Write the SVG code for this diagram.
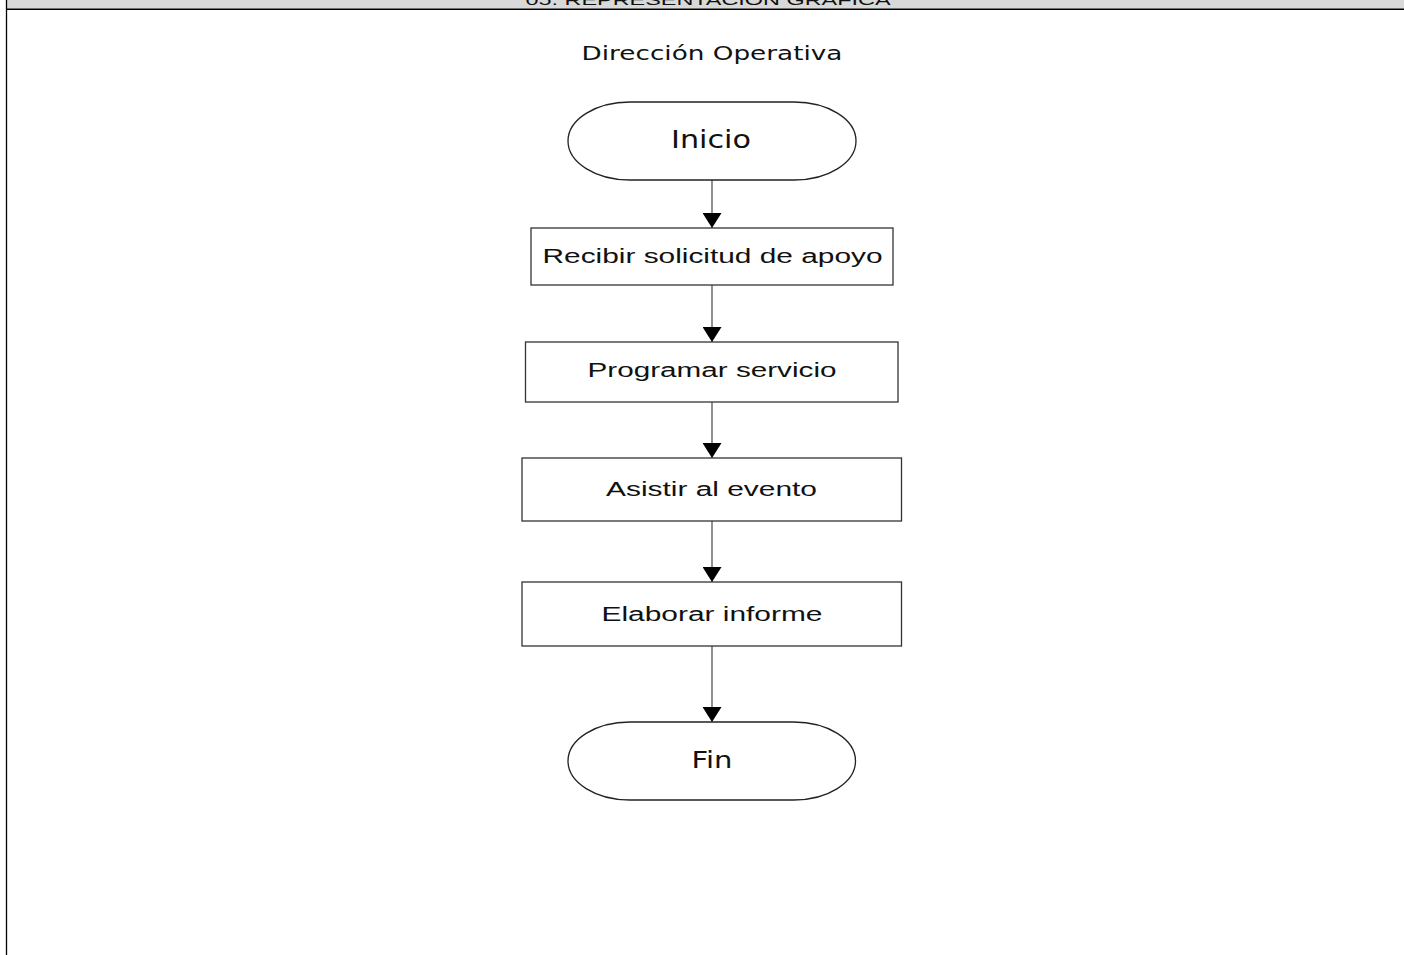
<svg xmlns="http://www.w3.org/2000/svg" width="1404" height="955" viewBox="0 0 1404 955">
<style>
.box{fill:#fff;stroke:#333;stroke-width:1.3}
.term{fill:#fff;stroke:#222;stroke-width:1.3}
.lbl{font-family:"Liberation Sans",Arial,sans-serif;font-size:19.5px;fill:#111;text-anchor:middle}
.tl{font-family:"DejaVu Sans","Verdana",sans-serif;fill:#111;text-anchor:middle}
.conn{stroke:#555;stroke-width:1.3;fill:none}
</style>
<defs>
<marker id="ah" viewBox="0 0 15 19" refX="15" refY="9.5" markerWidth="15" markerHeight="19" markerUnits="userSpaceOnUse" orient="auto">
<path d="M0,0 L15,9.5 L0,19 Z" fill="#000"/>
</marker>
</defs>
<rect width="1404" height="955" fill="#fff"/>
<g id="header">
<rect x="7" y="0" width="1397" height="8.7" fill="#d9d9d9"/>
<text x="708" y="5" font-family="'Liberation Sans',Arial,sans-serif" font-size="15.5" fill="#111" text-anchor="middle" textLength="365" lengthAdjust="spacingAndGlyphs">05. REPRESENTACIÓN GRÁFICA</text>
<line x1="6" y1="9.3" x2="1404" y2="9.3" stroke="#000" stroke-width="1.4"/>
<line x1="6.5" y1="0" x2="6.5" y2="955" stroke="#000" stroke-width="1.3"/>
</g>
<g id="title">
<text class="tl" x="712" y="60" font-size="19.5" textLength="261" lengthAdjust="spacingAndGlyphs">Dirección Operativa</text>
</g>
<g id="connectors">
<line class="conn" x1="712" y1="180" x2="712" y2="228" marker-end="url(#ah)"/>
<line class="conn" x1="712" y1="285" x2="712" y2="342" marker-end="url(#ah)"/>
<line class="conn" x1="712" y1="402" x2="712" y2="458" marker-end="url(#ah)"/>
<line class="conn" x1="712" y1="521" x2="712" y2="582" marker-end="url(#ah)"/>
<line class="conn" x1="712" y1="646" x2="712" y2="722" marker-end="url(#ah)"/>
</g>
<g id="inicio">
<rect class="term" x="568" y="102" width="288" height="78" rx="62" ry="39"/>
<text class="tl" x="711" y="148" font-size="24" textLength="80" lengthAdjust="spacingAndGlyphs">Inicio</text>
</g>
<g id="recibir">
<rect class="box" x="531" y="228" width="362" height="57"/>
<text class="lbl" x="712.5" y="263" textLength="340" lengthAdjust="spacingAndGlyphs">Recibir solicitud de apoyo</text>
</g>
<g id="programar">
<rect class="box" x="525.5" y="342" width="372.5" height="60"/>
<text class="lbl" x="712" y="377" textLength="249" lengthAdjust="spacingAndGlyphs">Programar servicio</text>
</g>
<g id="asistir">
<rect class="box" x="522" y="458" width="379.5" height="63"/>
<text class="lbl" x="711.5" y="496" textLength="211" lengthAdjust="spacingAndGlyphs">Asistir al evento</text>
</g>
<g id="elaborar">
<rect class="box" x="522" y="582" width="379.5" height="64"/>
<text class="lbl" x="712" y="621" textLength="221" lengthAdjust="spacingAndGlyphs">Elaborar informe</text>
</g>
<g id="fin">
<rect class="term" x="568" y="722" width="287.5" height="78" rx="62" ry="39"/>
<text class="tl" x="712" y="768" font-size="23" textLength="41" lengthAdjust="spacingAndGlyphs">Fin</text>
</g>
</svg>
